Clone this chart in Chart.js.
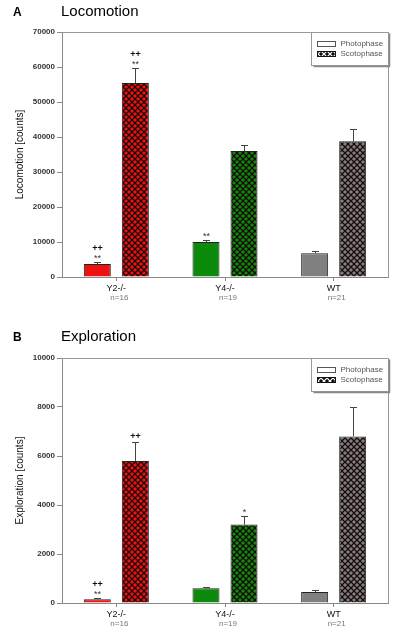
<!DOCTYPE html>
<html><head><meta charset="utf-8">
<script src="https://cdn.jsdelivr.net/npm/chart.js@4/dist/chart.umd.min.js"></script>
<style>
body{margin:0;background:#fff;width:400px;height:631px;overflow:hidden;position:relative}
.w{position:absolute;left:0;width:400px}
</style></head><body>
<div class="w" style="top:0;height:315px"><canvas id="a"></canvas></div>
<div class="w" style="top:315px;height:316px"><canvas id="b"></canvas></div>
<script>
// ---- data ----
const categories = ['Y2-/-', 'Y4-/-', 'WT'];
const nLabels = ['n=16', 'n=19', 'n=21'];
const seriesNames = ['Photophase', 'Scotophase'];

const locoPhoto = [3700, 10000, 6800];
const locoPhotoErr = [500, 700, 600];
const locoScoto = [55400, 36000, 38800];
const locoScotoErr = [4300, 1700, 3500];
const locoPhotoSig = [['++', '**'], ['**'], []];
const locoScotoSig = [['++', '**'], [], []];
const locoTicks = [0, 10000, 20000, 30000, 40000, 50000, 60000, 70000];

const explPhoto = [150, 600, 450];
const explPhotoErr = [50, 50, 80];
const explScoto = [5800, 3200, 6800];
const explScotoErr = [780, 360, 1220];
const explPhotoSig = [['++', '**'], [], []];
const explScotoSig = [['++'], ['*'], []];
const explTicks = [0, 2000, 4000, 6000, 8000, 10000];

const photoColors = ['#ee1111', '#0b8a0b', '#808080'];
const scotoColors = ['#ee1111', '#0b8a0b', '#808080'];

function hatch(fill, line, lw) {
  const n = 6;
  const c = document.createElement('canvas'); c.width = n; c.height = n;
  const g = c.getContext('2d');
  g.fillStyle = fill; g.fillRect(0, 0, n, n);
  g.strokeStyle = line; g.lineWidth = lw || 1.1;
  g.beginPath(); g.moveTo(-1, -1); g.lineTo(n + 1, n + 1); g.moveTo(n + 1, -1); g.lineTo(-1, n + 1); g.stroke();
  return g.createPattern(c, 'repeat');
}

const FONT = 'Arial, "Liberation Sans", sans-serif';

const custom = {
  id: 'custom',
  afterDatasetsDraw(chart, args, o) {
    const ctx = chart.ctx, y = chart.scales.y;
    ctx.save();
    chart.data.datasets.forEach((ds, d) => {
      const meta = chart.getDatasetMeta(d);
      meta.data.forEach((el, i) => {
        const v = ds.data[i], e = o.errs[d][i];
        const yt = Math.round(y.getPixelForValue(v + e)) + 0.5;
        const x = Math.round(el.x) + 0.5;
        ctx.strokeStyle = '#444'; ctx.lineWidth = 1;
        ctx.beginPath();
        ctx.moveTo(x, el.y); ctx.lineTo(x, yt);
        ctx.moveTo(x - 3.5, yt); ctx.lineTo(x + 3.5, yt);
        ctx.stroke();
        const lines = o.sigs[d][i].slice().reverse();
        ctx.textAlign = 'center'; ctx.textBaseline = 'middle';
        lines.forEach((t, k) => {
          const star = t.indexOf('*') >= 0;
          ctx.font = (star ? '' : 'bold ') + '9px ' + FONT;
          ctx.fillStyle = star ? '#333' : '#111';
          ctx.fillText(t, x, yt - 6 - k * 8 + (star ? 2 : 0));
        });
      });
    });
    ctx.restore();
  },
  afterDraw(chart, args, o) {
    const ctx = chart.ctx, ca = chart.chartArea, xs = chart.scales.x;
    ctx.save();
    // frame top/right
    ctx.strokeStyle = '#999'; ctx.lineWidth = 1;
    ctx.beginPath();
    ctx.moveTo(ca.left, ca.top + 0.5); ctx.lineTo(ca.right + 0.5, ca.top + 0.5);
    ctx.lineTo(ca.right + 0.5, ca.bottom);
    ctx.stroke();
    // legend
    const w = 77, h = 33, x0 = ca.right - w + 0.5, y0 = ca.top + 0.5;
    ctx.fillStyle = '#fff'; ctx.fillRect(x0, y0, w, h);
    ctx.strokeStyle = '#999'; ctx.strokeRect(x0, y0, w, h);
    ctx.strokeStyle = '#888'; ctx.lineWidth = 1.5;
    ctx.beginPath(); ctx.moveTo(x0 + w + 1, y0 + 1); ctx.lineTo(x0 + w + 1, y0 + h + 1); ctx.lineTo(x0 + 2, y0 + h + 1); ctx.stroke();
    ctx.lineWidth = 1;
    ctx.fillStyle = '#fff'; ctx.strokeStyle = '#555';
    ctx.fillRect(x0 + 6, y0 + 9, 18, 5); ctx.strokeRect(x0 + 6, y0 + 9, 18, 5);
    ctx.fillStyle = hatch('#111', '#fff', 1.2);
    ctx.fillRect(x0 + 6, y0 + 19, 18, 5); ctx.strokeStyle = '#111'; ctx.strokeRect(x0 + 6, y0 + 19, 18, 5);
    ctx.fillStyle = '#555'; ctx.font = '8px ' + FONT; ctx.textAlign = 'left'; ctx.textBaseline = 'middle';
    ctx.fillText(seriesNames[0], x0 + 29, y0 + 11.5);
    ctx.fillText(seriesNames[1], x0 + 29, y0 + 21.5);
    // n labels
    ctx.textAlign = 'center'; ctx.fillStyle = '#777'; ctx.font = '8px ' + FONT;
    nLabels.forEach((t, i) => ctx.fillText(t, xs.getPixelForValue(i) + 3, ca.bottom + o.nOff));
    // titles
    ctx.textAlign = 'left'; ctx.textBaseline = 'alphabetic'; ctx.fillStyle = '#000';
    ctx.font = 'bold 12px ' + FONT; ctx.fillText(o.letter, 13, o.titleY);
    ctx.font = '15px ' + FONT; ctx.fillText(o.title, 61, o.titleY);
    // y title
    ctx.save();
    ctx.translate(20, (ca.top + ca.bottom) / 2); ctx.rotate(-Math.PI / 2);
    ctx.textAlign = 'center'; ctx.textBaseline = 'middle'; ctx.font = '10px ' + FONT; ctx.fillStyle = '#111';
    ctx.fillText(o.yTitle, 0, 0);
    ctx.restore();
    ctx.restore();
  }
};

function make(id, photo, scoto, errs, sigs, ticks, max, step, opts) {
  return new Chart(document.getElementById(id), {
    type: 'bar',
    data: {
      labels: categories,
      datasets: [
        { label: seriesNames[0], data: photo, backgroundColor: photoColors, borderColor: '#222', borderWidth: 1, categoryPercentage: 0.7, barPercentage: 0.71 },
        { label: seriesNames[1], data: scoto, backgroundColor: scotoColors.map(c => hatch(c, '#1a0a0a', 1.3)), borderColor: '#222', borderWidth: 1, categoryPercentage: 0.7, barPercentage: 0.71 }
      ]
    },
    options: {
      responsive: true, maintainAspectRatio: false, animation: false, devicePixelRatio: 1,
      layout: { padding: { top: opts.top, right: 12, left: 0, bottom: 0 } },
      plugins: {
        legend: { display: false }, tooltip: { enabled: false }, title: { display: false },
        custom: Object.assign({ errs, sigs }, opts)
      },
      scales: {
        x: {
          afterFit: s => { s.height = opts.xh; },
          grid: { display: true, drawOnChartArea: false, offset: false, tickLength: 4, color: '#888' },
          border: { color: '#888', width: 1 },
          ticks: { font: { size: 9, family: FONT }, color: '#111', padding: 2 }
        },
        y: {
          min: 0, max: max,
          afterFit: s => { s.width = 62; },
          afterBuildTicks: s => { s.ticks = ticks.map(v => ({ value: v })); },
          grid: { display: true, drawOnChartArea: false, tickLength: 5, color: '#888' },
          border: { color: '#888', width: 1 },
          ticks: { font: { size: 8, family: FONT, weight: 'bold' }, color: '#333', padding: 2, stepSize: step, callback: v => String(v) }
        }
      }
    },
    plugins: [custom]
  });
}

make('a', locoPhoto, locoScoto, [locoPhotoErr, locoScotoErr], [locoPhotoSig, locoScotoSig], locoTicks, 70000, 10000,
  { top: 32, xh: 38, nOff: 21, letter: 'A', title: 'Locomotion', titleY: 16, yTitle: 'Locomotion [counts]' });
make('b', explPhoto, explScoto, [explPhotoErr, explScotoErr], [explPhotoSig, explScotoSig], explTicks, 10000, 2000,
  { top: 43, xh: 28, nOff: 21, letter: 'B', title: 'Exploration', titleY: 26, yTitle: 'Exploration [counts]' });
</script>
</body></html>
